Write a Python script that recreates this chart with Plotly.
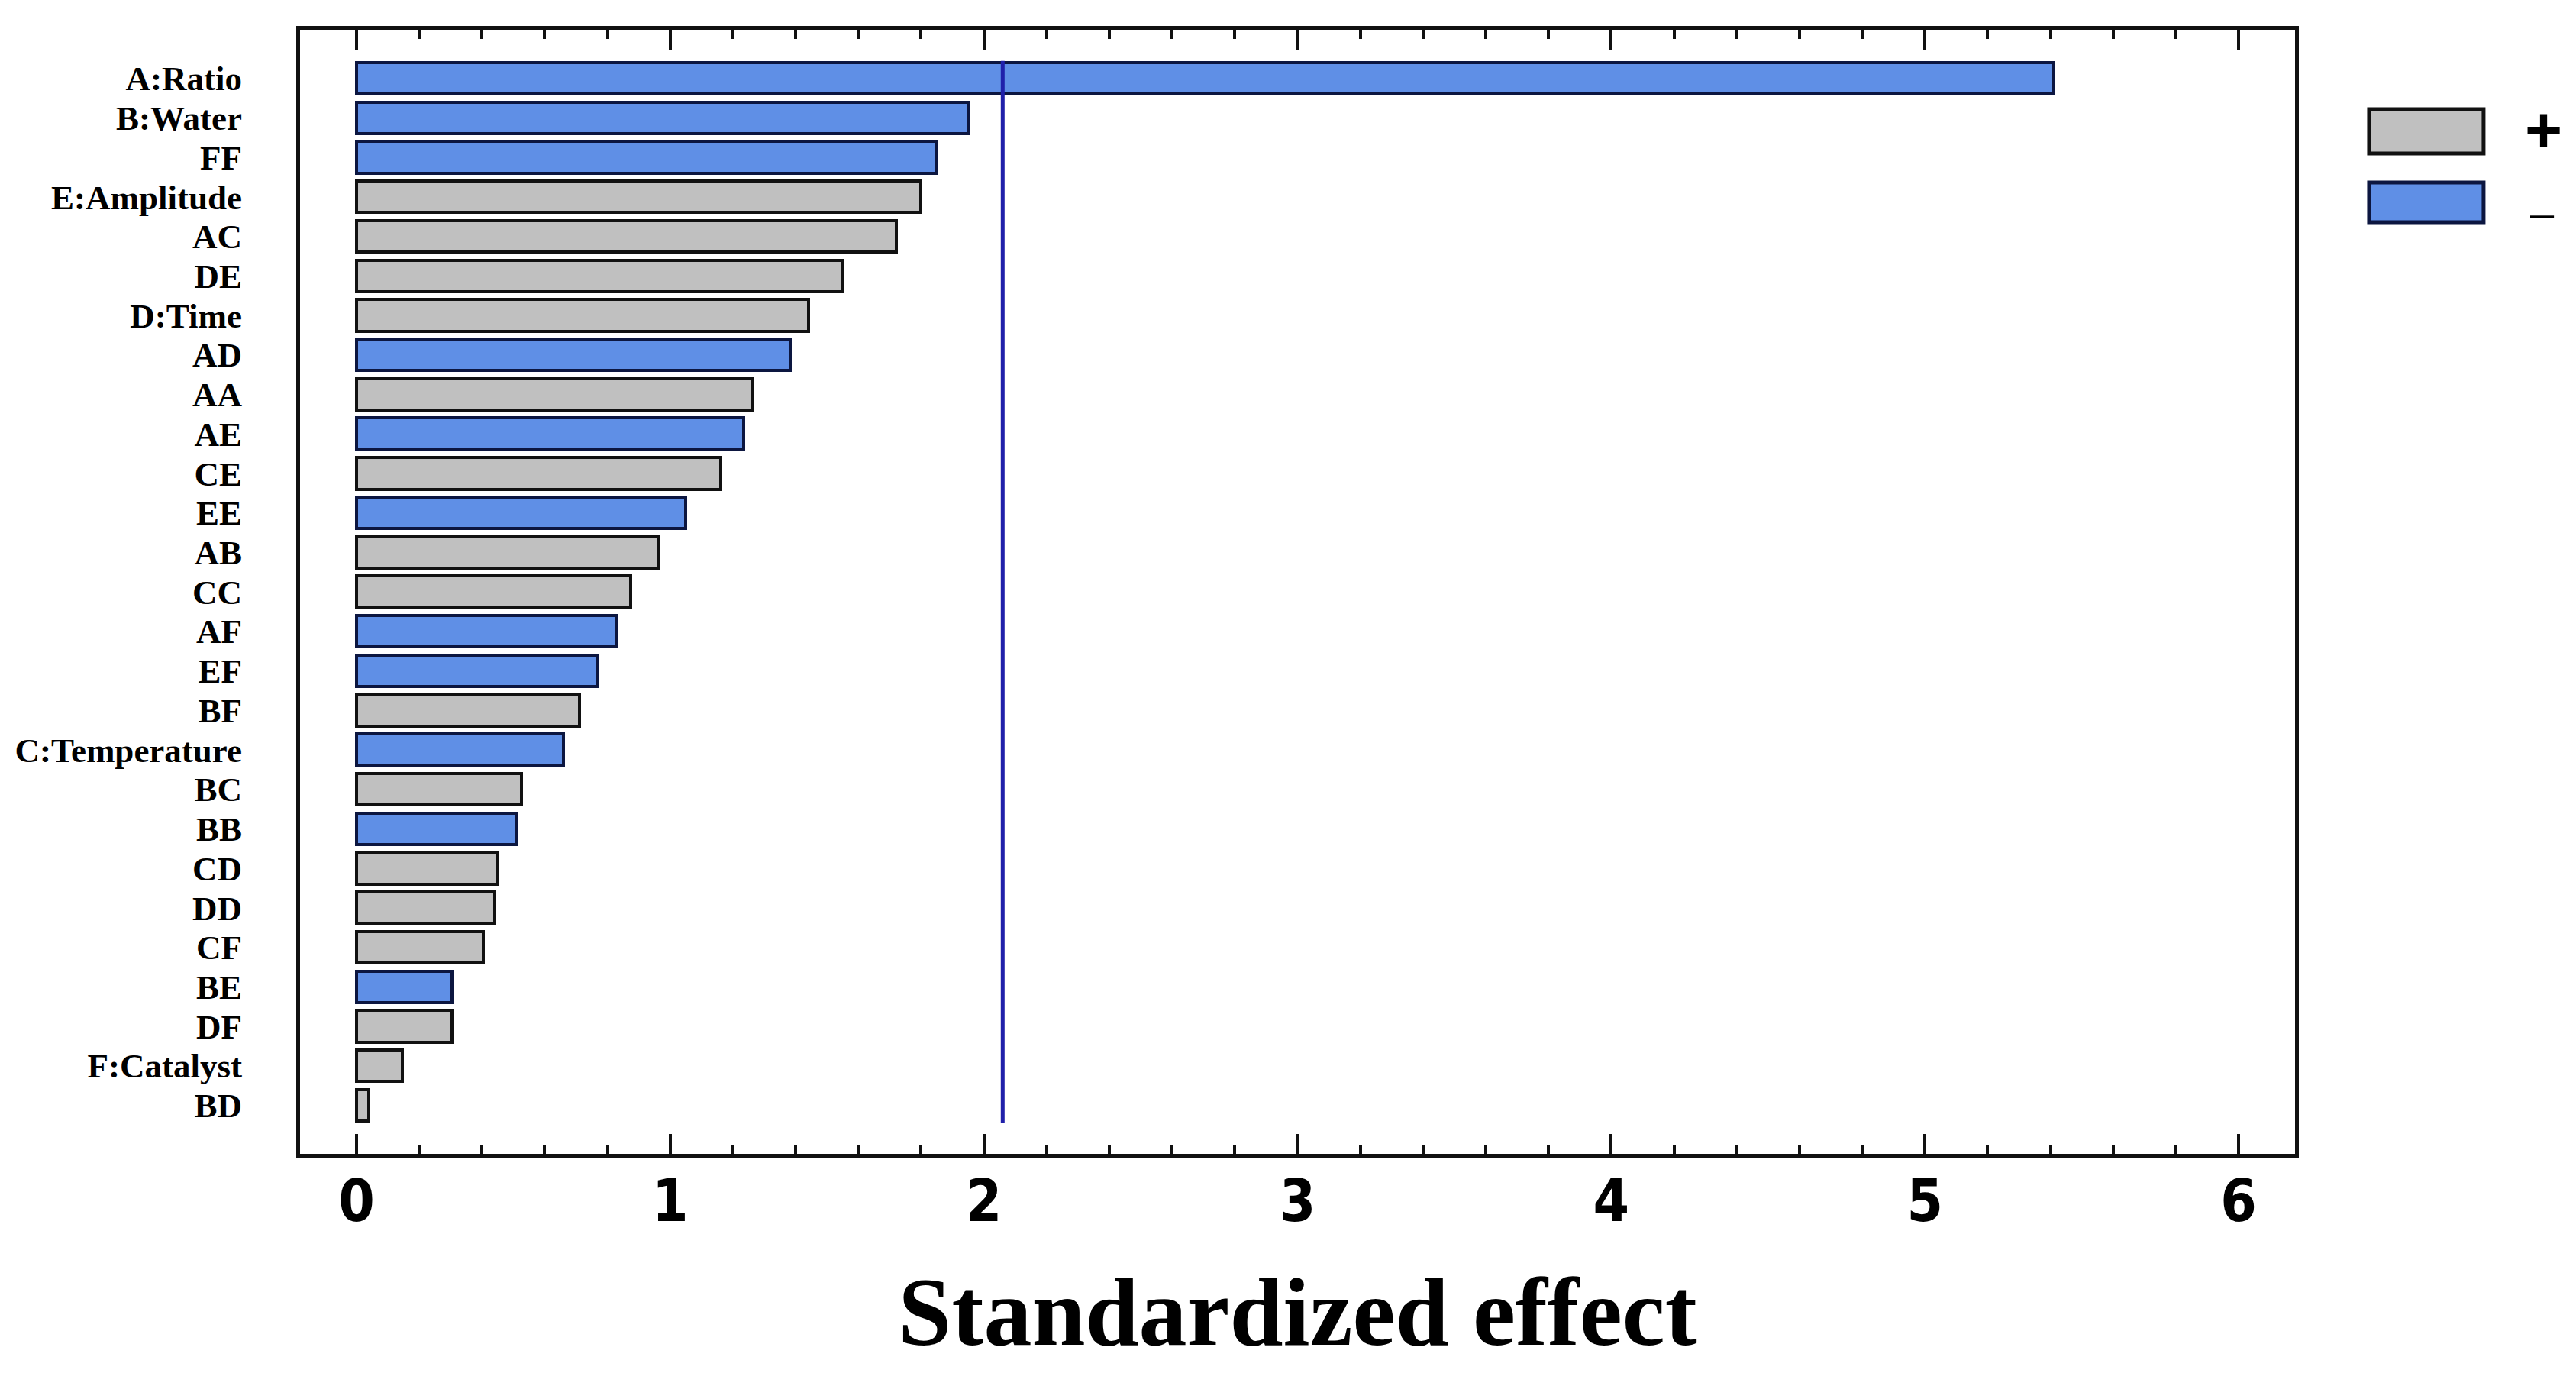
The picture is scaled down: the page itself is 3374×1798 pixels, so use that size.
import plotly.graph_objects as go

# ---- data ----
terms = ["A:Ratio", "B:Water", "FF", "E:Amplitude", "AC", "DE", "D:Time", "AD", "AA", "AE",
         "CE", "EE", "AB", "CC", "AF", "EF", "BF", "C:Temperature", "BC", "BB",
         "CD", "DD", "CF", "BE", "DF", "F:Catalyst", "BD"]
effects = [5.41, 1.95, 1.85, 1.80, 1.72, 1.55, 1.44, 1.385, 1.26, 1.235,
           1.16, 1.05, 0.965, 0.875, 0.83, 0.77, 0.71, 0.66, 0.525, 0.51,
           0.45, 0.44, 0.405, 0.305, 0.305, 0.145, 0.04]
signs = ["-", "-", "-", "+", "+", "+", "+", "-", "+", "-",
         "+", "-", "+", "+", "-", "-", "+", "-", "+", "-",
         "+", "+", "+", "-", "+", "+", "+"]
critical_t = 2.06
x_ticks = [0, 1, 2, 3, 4, 5, 6]
legend_labels = ["+", "–"]

GRAY = "#c0c0c0"
BLUE = "#5f8fe6"

fig = go.Figure()
for sign, color, edge in [("+", GRAY, "#111111"), ("-", BLUE, "#0c1640")]:
    ys = [t for t, s in zip(terms, signs) if s == sign]
    xs = [v for v, s in zip(effects, signs) if s == sign]
    fig.add_trace(go.Bar(
        x=xs, y=ys, orientation="h", width=0.8,
        marker=dict(color=color, line=dict(color=edge, width=4)),
        showlegend=False, hoverinfo="x+y"))

# critical value line
fig.add_shape(type="line", xref="x", yref="y", x0=critical_t, x1=critical_t,
              y0=-0.44, y1=26.45, line=dict(color="#2020aa", width=5), layer="above")

# custom legend (large swatches)
legend_boxes = [(0.890, 0.9293, GRAY, "#111111"), (0.8288, 0.8641, BLUE, "#0c1640")]
for (y0, y1, fill, edge), lab in zip(legend_boxes, legend_labels):
    fig.add_shape(type="rect", xref="paper", yref="paper", x0=1.0371, x1=1.0945,
                  y0=y0, y1=y1, fillcolor=fill, line=dict(color=edge, width=5))
fig.add_annotation(xref="paper", yref="paper", x=1.1244, y=0.911, xanchor="center", yanchor="middle",
                   text="<b>" + legend_labels[0] + "</b>",
                   showarrow=False, font=dict(family="Liberation Sans, Arial", size=84, color="#000"))
fig.add_annotation(xref="paper", yref="paper", x=1.124, y=0.837, xanchor="center", yanchor="middle",
                   text=legend_labels[1],
                   showarrow=False, font=dict(family="Liberation Sans, Arial", size=56, color="#000"))

fig.update_layout(
    width=3374, height=1798,
    margin=dict(l=385, r=376, t=31, b=295),
    paper_bgcolor="white", plot_bgcolor="white",
    barmode="overlay", bargap=0,
    xaxis=dict(
        range=[-0.18, 6.18], tickvals=x_ticks, ticktext=[str(v) for v in x_ticks],
        ticks="inside", ticklen=26, tickwidth=4, tickcolor="#111",
        minor=dict(dtick=0.2, tick0=0, ticks="inside", ticklen=12, tickwidth=4, tickcolor="#111", showgrid=False),
        showline=True, linewidth=5, linecolor="#111", mirror="allticks",
        showgrid=False, zeroline=False,
        tickfont=dict(family="DejaVu Sans Condensed, Liberation Sans Narrow, Arial Narrow", size=76, color="#000", weight="bold"),
        ticklabelstandoff=-8,
        title=dict(text="<b>Standardized effect</b>", standoff=58,
                   font=dict(family="Liberation Serif, Times New Roman", size=126, color="#000")),
    ),
    yaxis=dict(
        type="category", categoryorder="array", categoryarray=terms,
        tickmode="array", tickvals=terms, ticktext=terms,
        range=[27.23, -1.23],
        showline=True, linewidth=5, linecolor="#111", mirror=True,
        ticks="", showgrid=False, zeroline=False,
        tickfont=dict(family="Liberation Serif, Times New Roman", size=45, color="#000", weight="bold"),
        ticklabelstandoff=62,
    ),
)

fig.write_html("out.html")
